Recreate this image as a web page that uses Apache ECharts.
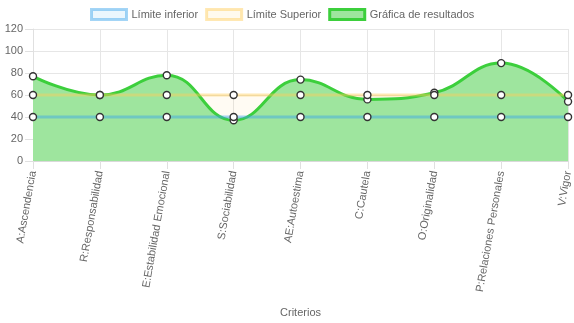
<!DOCTYPE html>
<html><head><meta charset="utf-8">
<script src="https://cdn.jsdelivr.net/npm/echarts@6/dist/echarts.min.js"></script>
<style>html,body{margin:0;padding:0;background:#fff}#c{width:574px;height:323px}</style>
</head><body><div id="c"></div>
<script>
const categories = ['A:Ascendencia','R:Responsabilidad','E:Estabilidad Emocional','S:Sociabilidad','AE:Autoestima','C:Cautela','O:Originalidad','P:Relaciones Personales','V:Vigor'];
const limiteInferior = [40,40,40,40,40,40,40,40,40];
const limiteSuperior = [60,60,60,60,60,60,60,60,60];
const resultados = [77,60,78,37,74,56,62,89,54];
const yTicks = [0,20,40,60,80,100,120];

const FONT = 'Liberation Sans, Arial, sans-serif';
const chart = echarts.init(document.getElementById('c'), null, {renderer:'canvas'});
const pt = {color:'#fff', borderColor:'#333', borderWidth:1.4};
chart.setOption({
  animation:false,
  legend:{
    top:3, left:85, itemWidth:35, itemHeight:10, itemGap:7,
    textStyle:{color:'#666', fontSize:11, fontFamily:FONT},
    data:[
      {name:'Límite inferior', icon:'rect', itemStyle:{color:'rgba(54,162,235,0.1)', borderColor:'rgba(54,162,235,0.45)', borderWidth:3}},
      {name:'Límite Superior', icon:'rect', itemStyle:{color:'rgba(255,205,86,0.1)', borderColor:'rgba(255,205,86,0.45)', borderWidth:3}},
      {name:'Gráfica de resultados', icon:'rect', itemStyle:{color:'#9ee59e', borderColor:'#3ccf3c', borderWidth:3}}
    ]
  },
  grid:{left:33, right:4, top:29, bottom:162},
  xAxis:{
    type:'category', data:categories, boundaryGap:false,
    name:'Criterios', nameLocation:'middle', nameGap:146,
    nameTextStyle:{color:'#666', fontSize:11, fontFamily:FONT},
    axisLine:{lineStyle:{color:'#d9d9d9'}},
    axisTick:{show:true, length:8, lineStyle:{color:'#e0e0e0'}},
    axisLabel:{rotate:80, color:'#666', fontSize:11, fontFamily:FONT, margin:10},
    splitLine:{show:true, lineStyle:{color:'#e6e6e6'}}
  },
  yAxis:{
    type:'value', min:yTicks[0], max:yTicks[yTicks.length-1], interval:20,
    axisLine:{show:true, lineStyle:{color:'#e0e0e0'}},
    axisTick:{show:true, length:8, lineStyle:{color:'#e0e0e0'}},
    axisLabel:{color:'#666', fontSize:11, fontFamily:FONT, margin:10},
    splitLine:{show:true, lineStyle:{color:'#e6e6e6'}}
  },
  series:[
    {name:'_bgSup', type:'line', data:limiteSuperior, z:1, silent:true, symbol:'none',
     lineStyle:{width:0}, areaStyle:{color:'rgba(255,205,86,0.1)', origin:'start'}},
    {name:'_bgInf', type:'line', data:limiteInferior, z:1, silent:true, symbol:'none',
     lineStyle:{width:0}, areaStyle:{color:'rgba(54,162,235,0.06)', origin:'start'}},
    {name:'Gráfica de resultados', type:'line', data:resultados, z:2, smooth:0.45,
     symbol:'circle', symbolSize:7, itemStyle:pt,
     lineStyle:{color:'#3ccf3c', width:3}, areaStyle:{color:'#9ee59e', opacity:1, origin:'start'}},
    {name:'Límite Superior', type:'line', data:limiteSuperior, z:3,
     symbol:'circle', symbolSize:7, itemStyle:pt,
     lineStyle:{color:'rgba(255,205,86,0.45)', width:3}},
    {name:'Límite inferior', type:'line', data:limiteInferior, z:3,
     symbol:'circle', symbolSize:7, itemStyle:pt,
     lineStyle:{color:'rgba(54,162,235,0.45)', width:3}}
  ]
});
</script></body></html>
